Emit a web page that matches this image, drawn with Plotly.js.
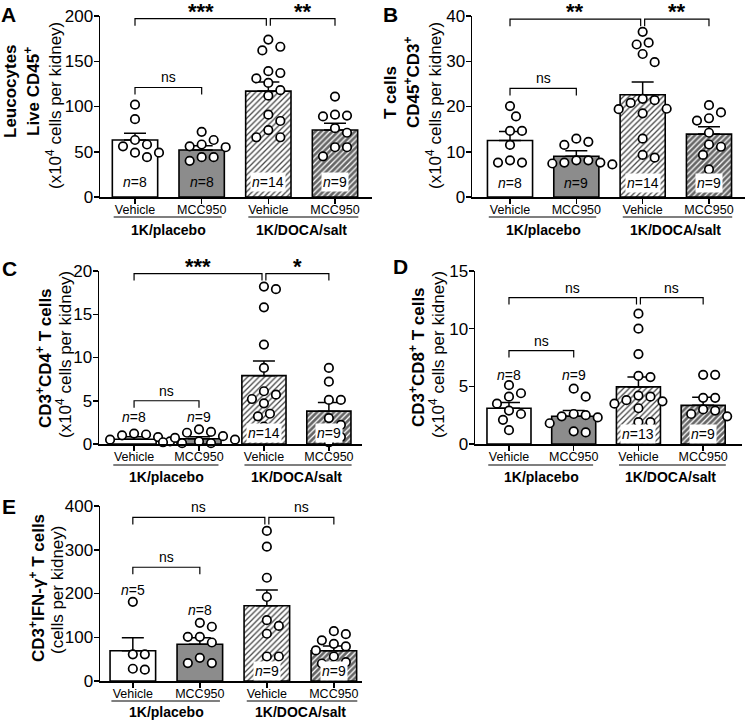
<!DOCTYPE html>
<html>
<head>
<meta charset="utf-8">
<script src="https://cdn.plot.ly/plotly-3.0.1.min.js"></script>
<style>body{margin:0;background:#fff}#chart{width:745px;height:720px}</style>
</head>
<body>
<div id="chart"></div>
<script>
var W = 745, H = 720;
var FONT = 'Liberation Sans, Arial, sans-serif';
var NARROW = 'Liberation Sans Narrow, Liberation Sans, Arial, sans-serif';

var categories = ['Vehicle', 'MCC950', 'Vehicle', 'MCC950'];
var groupNames = ['1K/placebo', '1K/DOCA/salt'];

// A - leucocytes (x10^4 per kidney)
var aMean = [63, 52, 117, 74];
var aSem = [7.5, 4.5, 10, 7.5];
var aN = [8, 8, 14, 9];
var aVehPlacebo = [102, 86, 63, 58, 56, 49, 49, 44];
var aMccPlacebo = [72, 63, 58, 56, 55, 44, 40, 44];
var aVehDoca = [174, 166, 162, 139, 137, 131, 126, 118, 112, 91, 84, 74, 66, 66];
var aMccDoca = [111, 90, 89, 91, 76, 71, 55, 55, 45];

// B - T cells
var bMean = [12.5, 9.0, 22.6, 13.9];
var bSem = [2.0, 1.2, 2.8, 1.6];
var bN = [8, 9, 14, 9];
var bVehPlacebo = [20.1, 17.8, 14.6, 14.6, 11.5, 8.1, 7.6, 7.6];
var bMccPlacebo = [12.2, 12.9, 11.5, 8.1, 8.1, 7.6, 7.2, 7.6, 7.4];
var bVehDoca = [36.5, 34.1, 33.7, 31.6, 29.8, 21.7, 21.4, 20.8, 19.5, 19.4, 18.5, 12.9, 9.3, 8.7];
var bMccDoca = [20.3, 18.7, 17.4, 16.9, 14.2, 11.1, 11.6, 9.3, 6.1];

// C - CD4+ T cells
var cMean = [0.55, 0.6, 7.9, 3.8];
var cSem = [0.3, 0.25, 1.7, 1.0];
var cN = [8, 9, 14, 9];
var cVehPlacebo = [1.1, 1.2, 1.0, 0.8, 0.5, 0.3, 0.2, 0.1];
var cMccPlacebo = [1.7, 1.4, 1.3, 0.9, 0.7, 0.5, 0.3, 0.2, 0.1];
var cVehDoca = [18.2, 17.9, 15.8, 11.5, 8.8, 6.1, 5.7, 5.2, 4.7, 3.5, 3.2, 2.0, 1.4, 0.9];
var cMccDoca = [8.8, 7.2, 5.1, 5.1, 3.0, 2.2, 1.5, 0.8, 0.2];

// D - CD8+ T cells
var dMean = [3.1, 2.4, 4.95, 3.35];
var dSem = [0.5, 0.5, 0.85, 0.7];
var dN = [8, 9, 13, 9];
var dVehPlacebo = [5.1, 4.4, 4.1, 3.5, 2.9, 2.6, 2.1, 1.2];
var dMccPlacebo = [4.8, 4.1, 2.6, 2.5, 2.4, 2.3, 1.8, 1.1, 1.0];
var dVehDoca = [11.3, 10.0, 7.8, 5.9, 5.8, 4.2, 4.1, 3.8, 3.5, 3.7, 3.1, 1.9, 1.9];
var dMccDoca = [6.0, 6.0, 4.0, 4.0, 3.0, 2.9, 2.6, 2.4, 0.6];

// E - IFN-g+ T cells (cells per kidney)
var eMean = [69, 84, 172, 69];
var eSem = [30, 15, 36, 11];
var eN = [5, 8, 9, 9];
var eVehPlacebo = [181, 61, 61, 28, 26];
var eMccPlacebo = [133, 124, 101, 101, 88, 53, 41, 41];
var eVehDoca = [343, 307, 236, 192, 139, 126, 108, 56, 56];
var eMccDoca = [114, 107, 93, 85, 79, 70, 56, 43, 40];

var panels = [
  {mean: aMean, sem: aSem, n: aN, pts: [aVehPlacebo, aMccPlacebo, aVehDoca, aMccDoca],
   ymax: 200, dtick: 50, xdom: [100, 372], ydom: [197, 16], xr: [-0.525, 3.555],
   nY: [17, 17, 17, 17], nBg: [false, false, true, true],
   sig: ['ns', '***', '**'], sigY: [121, 197],
   letter: ['A', 8, 1], groupY: [217, 230],
   titles: [['<b>Leucocytes</b>', 10, 91, true], ['<b>Live CD45<sup>+</sup></b>', 32, 92, true],
            ['(x10<sup>4</sup> cells per kidney)', 54, 106, false]]},
  {mean: bMean, sem: bSem, n: bN, pts: [bVehPlacebo, bMccPlacebo, bVehDoca, bMccDoca],
   ymax: 40, dtick: 10, xdom: [472, 745], ydom: [197, 16], xr: [-0.573, 3.543],
   nY: [3.2, 3.2, 3.2, 3.2], nBg: [false, false, true, true],
   sig: ['ns', '**', '**'], sigY: [24, 39.3],
   letter: ['B', 390, 1], groupY: [217, 230],
   titles: [['<b>T cells</b>', 391, 93, true], ['<b>CD45<sup>+</sup>CD3<sup>+</sup></b>', 412, 83, true],
            ['(x10<sup>4</sup> cells per kidney)', 434, 105, false]]},
  {mean: cMean, sem: cSem, n: cN, pts: [cVehPlacebo, cMccPlacebo, cVehDoca, cMccDoca],
   ymax: 20, dtick: 5, xdom: [99, 362], ydom: [444, 271], xr: [-0.54, 3.51],
   nY: [3.1, 3.1, 1.3, 1.3], nBg: [false, false, true, true],
   sig: ['ns', '***', '*'], sigY: [5.0, 19.7],
   letter: ['C', 9, 255], groupY: [465, 477],
   titles: [['<b>CD3<sup>+</sup>CD4<sup>+</sup> T cells</b>', 44, 358, false],
            ['(x10<sup>4</sup> cells per kidney)', 64, 355, false]]},
  {mean: dMean, sem: dSem, n: dN, pts: [dVehPlacebo, dMccPlacebo, dVehDoca, dMccDoca],
   ymax: 15, dtick: 5, xdom: [475, 742], ydom: [444, 271], xr: [-0.525, 3.6],
   nY: [6.0, 6.0, 0.9, 0.9], nBg: [false, false, true, true],
   sig: ['ns', 'ns', 'ns'], sigY: [8.1, 12.7],
   letter: ['D', 400, 253], groupY: [465, 477],
   titles: [['<b>CD3<sup>+</sup>CD8<sup>+</sup> T cells</b>', 417, 357, false],
            ['(x10<sup>4</sup> cells per kidney)', 437, 355, false]]},
  {mean: eMean, sem: eSem, n: eN, pts: [eVehPlacebo, eMccPlacebo, eVehDoca, eMccDoca],
   ymax: 400, dtick: 100, xdom: [100, 362], ydom: [681, 506], xr: [-0.49, 3.42],
   nY: [208, 162, 24, 24], nBg: [false, false, true, true],
   sig: ['ns', 'ns', 'ns'], sigY: [260, 374],
   letter: ['E', 9, 493], groupY: [701, 712],
   titles: [['<b>CD3<sup>+</sup>IFN-γ<sup>+</sup> T cells</b>', 37, 588, false],
            ['(cells per kidney)', 57, 590, false]]}
];

var barColors = ['#ffffff', '#8c8c8c', '#ffffff', '#666666'];
var hatchFg = ['#000', '#000', '#555555', '#000000'];
var hatchShape = ['', '', '/', '/'];

var traces = [], shapes = [], annotations = [];
var layout = {
  width: W, height: H, margin: {l: 0, r: 0, t: 0, b: 0},
  paper_bgcolor: 'white', plot_bgcolor: 'rgba(0,0,0,0)',
  showlegend: false, font: {family: FONT, color: '#000'}
};

function fx(px) { return px / W; }
function fy(py) { return 1 - py / H; }

function paperNote(x, y, text, font, extra) {
  var a = {xref: 'paper', yref: 'paper', x: x, y: y, xanchor: 'center', yanchor: 'middle',
           text: text, showarrow: false, font: font};
  for (var k in extra) a[k] = extra[k];
  annotations.push(a);
}

panels.forEach(function(p, i) {
  var s = i === 0 ? '' : String(i + 1);
  var xa = 'x' + s, ya = 'y' + s;
  var pxX = (p.xdom[1] - p.xdom[0]) / (p.xr[1] - p.xr[0]);
  var pxY = (p.ydom[0] - p.ydom[1]) / p.ymax;

  layout['xaxis' + s] = {
    domain: [fx(p.xdom[0]), fx(p.xdom[1])], range: p.xr, anchor: ya,
    tickvals: [0, 1, 2, 3], ticktext: categories, tickfont: {size: 12.5},
    ticklabelstandoff: -5,
    showline: true, linecolor: '#000', linewidth: 1.5,
    ticks: 'outside', ticklen: 5, tickwidth: 1.5, tickcolor: '#000',
    showgrid: false, zeroline: false, fixedrange: true
  };
  layout['yaxis' + s] = {
    domain: [fy(p.ydom[0]), fy(p.ydom[1])], range: [0, p.ymax], anchor: xa,
    dtick: p.dtick, tickfont: {size: 17}, ticklabelstandoff: -3,
    showline: true, linecolor: '#000', linewidth: 1.5,
    ticks: 'outside', ticklen: 5, tickwidth: 1.5, tickcolor: '#000',
    showgrid: false, zeroline: false, fixedrange: true
  };

  traces.push({
    type: 'bar', x: [0, 1, 2, 3], y: p.mean, xaxis: xa, yaxis: ya, width: 0.68,
    marker: {
      color: barColors, line: {color: '#000', width: 1.6},
      pattern: {shape: hatchShape, fillmode: 'overlay', fgcolor: hatchFg, fgopacity: 1,
                size: 4, solidity: 0.32}
    },
    error_y: {type: 'data', symmetric: false, array: p.sem, arrayminus: [0, 0, 0, 0],
              color: '#000', thickness: 1.5, width: 11},
    hoverinfo: 'skip'
  });

  // simple beeswarm so circles do not overlap
  var xs = [], ys = [];
  p.pts.forEach(function(vals, g) {
    var placed = [];
    vals.slice().sort(function(a, b) { return b - a; }).forEach(function(v) {
      var yp = v * pxY, D = 11, off = 0;
      for (var k = 0; k < 40; k++) {
        var cand = (k % 2 ? 1 : -1) * Math.ceil(k / 2) * 6;
        var ok = placed.every(function(q) {
          var dx = q[0] - cand, dy = q[1] - yp;
          return dx * dx + dy * dy >= D * D;
        });
        if (ok) { off = cand; break; }
      }
      placed.push([off, yp]);
      xs.push(g + off / pxX);
      ys.push(v);
    });
  });
  traces.push({
    type: 'scatter', mode: 'markers', x: xs, y: ys, xaxis: xa, yaxis: ya, cliponaxis: false,
    marker: {symbol: 'circle', size: 8.5, color: '#fff', line: {color: '#000', width: 1.7}},
    hoverinfo: 'skip'
  });

  // n labels
  p.n.forEach(function(n, g) {
    annotations.push({
      xref: xa, yref: ya, x: g, y: p.nY[g], xanchor: 'center', yanchor: 'middle',
      text: '<i>n</i>=' + n, showarrow: false,
      font: {size: 14}, bgcolor: p.nBg[g] ? '#fff' : 'rgba(0,0,0,0)', borderpad: 1
    });
  });

  // significance brackets
  var t = 7 / pxY;
  var br = [[0, 1, p.sigY[0]], [0, 1.97, p.sigY[1]], [2.03, 3, p.sigY[1]]];
  br.forEach(function(b, k) {
    shapes.push({
      type: 'path', xref: xa, yref: ya, line: {color: '#000', width: 1.2},
      path: 'M' + b[0] + ',' + (b[2] - t) + ' L' + b[0] + ',' + b[2] + ' L' + b[1] + ',' + b[2] + ' L' + b[1] + ',' + (b[2] - t)
    });
    var star = p.sig[k] !== 'ns';
    annotations.push({
      xref: xa, yref: ya, x: (b[0] + b[1]) / 2, y: b[2], xanchor: 'center', yanchor: 'bottom',
      showarrow: false, yshift: star ? -7 : 0,
      text: star ? '<b>' + p.sig[k] + '</b>' : p.sig[k], font: {size: star ? 22 : 14}
    });
  });

  // group lines and labels under the axis
  function xPaper(v) { return fx(p.xdom[0] + (v - p.xr[0]) * pxX); }
  [[-0.32, 1.3], [1.7, 3.35]].forEach(function(r, k) {
    shapes.push({type: 'line', xref: 'paper', yref: 'paper',
      x0: xPaper(r[0]), x1: xPaper(r[1]), y0: fy(p.groupY[0]), y1: fy(p.groupY[0]),
      line: {color: '#000', width: 1.2}});
    paperNote(xPaper(k * 2 + 0.5), fy(p.groupY[1]), '<b>' + groupNames[k] + '</b>', {size: 14});
  });

  // y titles
  p.titles.forEach(function(tl) {
    paperNote(fx(tl[1]), fy(tl[2]), tl[0], {size: 17, family: tl[3] ? NARROW : FONT}, {textangle: -90});
  });

  paperNote(fx(p.letter[1]), fy(p.letter[2]), '<b>' + p.letter[0] + '</b>', {size: 21}, {yanchor: 'top'});
});

layout.shapes = shapes;
layout.annotations = annotations;
Plotly.newPlot('chart', traces, layout, {staticPlot: true});
</script>
</body>
</html>
